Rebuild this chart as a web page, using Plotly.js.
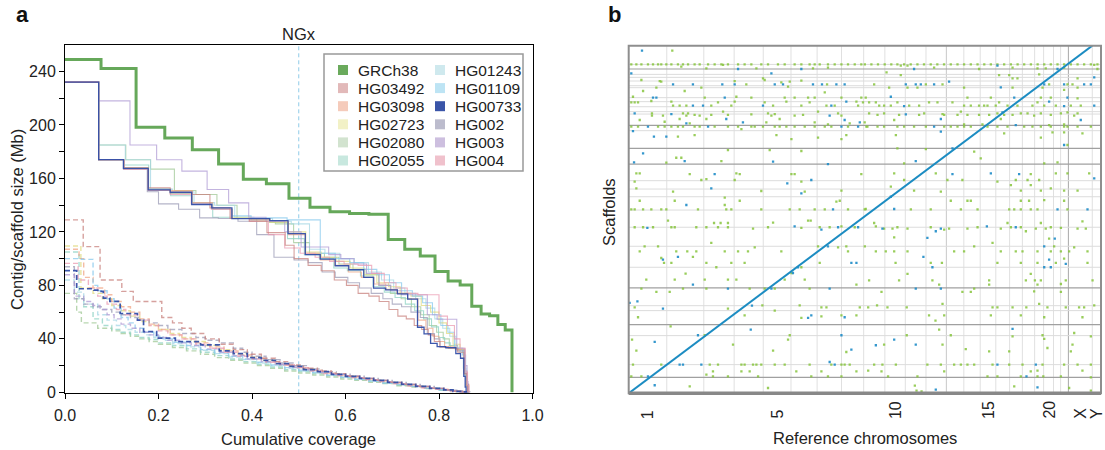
<!DOCTYPE html>
<html><head><meta charset="utf-8">
<script src="https://cdn.plot.ly/plotly-3.0.1.min.js"></script>
<style>html,body{margin:0;padding:0;background:#fff}#chart{width:1105px;height:450px}</style>
</head><body><div id="chart"></div>
<script>
const FONT = '"Liberation Sans", Arial, Helvetica, sans-serif';
const W = 1105, H = 450;

// ================= Panel a : NGx =================
const genomeSizeMb = 3230;
const grch38Sizes = [248.96,242.19,198.30,190.21,181.54,170.81,159.35,156.04,145.14,138.39,135.09,133.80,133.28,114.36,107.04,101.99,90.34,83.26,80.37,64.44,58.62,57.23,50.82,46.71];

// scaffolds: [size Mb, cumulative coverage at end of step]
const scaf_HG00733 = [[232,0.072],[174,0.125],[167.5,0.178],[151.5,0.225],[149.5,0.271],[140.5,0.314],[138,0.357],[130,0.438],[128.5,0.477],[118.7,0.514],[103,0.546],[99.7,0.578],[94.7,0.607],[91.7,0.639],[86,0.66],[78,0.686],[76.7,0.711],[73.7,0.733],[69.7,0.754],[48.7,0.768],[43.7,0.782],[36.7,0.796],[34.2,0.814],[33.5,0.836],[29,0.846],[25.5,0.853],[12,0.856],[4,0.858]];
const scaf_HG003 = [[232,0.072],[218,0.139],[185,0.196],[174,0.25],[165.5,0.304],[151.7,0.35],[141.7,0.393],[131,0.43],[128,0.47],[120,0.505],[108.7,0.564],[103,0.59],[100,0.618],[96,0.645],[89,0.672],[80,0.697],[76,0.72],[73,0.775],[58,0.796],[54.7,0.838],[33,0.855],[20,0.86],[8,0.862]];
const scaf_HG002 = [[232,0.072],[174,0.125],[167,0.176],[150,0.2],[141,0.243],[137,0.288],[130.5,0.328],[130,0.37],[128,0.41],[118,0.447],[101,0.49],[99,0.52],[97,0.55],[90,0.578],[86,0.605],[82,0.63],[78,0.655],[74,0.68],[70,0.7],[66,0.72],[64,0.74],[60,0.76],[56,0.775],[44,0.79],[40,0.802],[34,0.815],[33,0.84],[31,0.855],[14,0.86],[6,0.863]];
const scaf_HG02080 = [[232,0.072],[185,0.13],[174,0.183],[167,0.234],[151,0.28],[148,0.325],[140,0.368],[130,0.41],[128,0.45],[126,0.489],[112,0.523],[104,0.555],[101,0.586],[96,0.616],[92,0.644],[88,0.671],[80,0.696],[74,0.719],[70,0.741],[64,0.761],[58,0.779],[50,0.795],[45,0.809],[40,0.822],[35,0.84],[32,0.853],[15,0.858],[5,0.861]];
const scaf_HG02055 = [[232,0.072],[174,0.126],[170,0.179],[152,0.226],[147,0.272],[142,0.316],[131,0.357],[130,0.397],[129,0.437],[127,0.476],[115,0.512],[103,0.544],[100,0.575],[93,0.604],[91,0.632],[87,0.659],[79,0.683],[75,0.706],[71,0.728],[66,0.748],[61,0.767],[55,0.784],[49,0.799],[41,0.812],[37,0.824],[33,0.845],[30,0.855],[12,0.859],[5,0.862]];
const scaf_HG01243 = [[232,0.072],[185,0.129],[174,0.183],[152,0.23],[150,0.276],[142,0.32],[140,0.363],[131,0.404],[130,0.444],[128,0.484],[126,0.523],[107,0.556],[104,0.588],[100,0.619],[97,0.649],[90,0.677],[84,0.703],[78,0.727],[74,0.75],[70,0.772],[63,0.791],[55,0.808],[48,0.823],[42,0.836],[33,0.852],[18,0.858],[6,0.862]];
const scaf_HG01109 = [[232,0.072],[174,0.126],[167,0.178],[152,0.225],[150,0.271],[141,0.315],[137,0.357],[132,0.398],[130.5,0.475],[129,0.546],[104,0.578],[100,0.609],[97,0.639],[92,0.667],[88,0.694],[82,0.72],[76,0.743],[72,0.765],[67,0.786],[58,0.804],[50,0.819],[45,0.833],[33,0.85],[28,0.857],[10,0.861]];
const scaf_HG03492 = [[232,0.072],[174,0.126],[168,0.178],[153,0.225],[150,0.272],[148,0.31],[138,0.353],[130,0.394],[128,0.432],[119.5,0.471],[110,0.49],[100,0.52],[95,0.548],[91,0.576],[84,0.602],[80,0.627],[74,0.65],[72,0.672],[68,0.693],[62,0.712],[57,0.73],[55,0.747],[50,0.763],[47,0.777],[43,0.79],[38,0.802],[34,0.82],[33,0.84],[30,0.853],[14,0.858],[5,0.861]];
const scaf_HG03098 = [[232,0.072],[174,0.126],[167,0.178],[152,0.226],[151,0.272],[142,0.316],[137,0.358],[130,0.398],[129,0.438],[128,0.478],[118,0.514],[104,0.546],[99,0.577],[95,0.606],[90,0.634],[86,0.661],[81,0.686],[77,0.71],[74,0.733],[70,0.755],[54,0.772],[48,0.787],[42,0.8],[38,0.812],[34,0.835],[32,0.855],[16,0.86],[6,0.864]];
const scaf_HG02723 = [[232,0.072],[174,0.126],[168,0.178],[151,0.225],[149,0.271],[141,0.315],[137,0.357],[131,0.398],[130,0.438],[127,0.478],[120,0.515],[105,0.548],[101,0.58],[98,0.61],[93,0.64],[88,0.667],[82,0.692],[79,0.717],[74,0.74],[72,0.762],[65,0.782],[60,0.8],[52,0.816],[44,0.83],[36,0.845],[32,0.855],[14,0.86],[5,0.863]];
const scaf_HG004 = [[232,0.072],[174,0.126],[167,0.178],[151,0.225],[148,0.27],[141,0.313],[137,0.355],[130,0.395],[128,0.435],[118,0.47],[108,0.503],[104,0.535],[101,0.566],[98,0.597],[96,0.627],[95,0.656],[89,0.683],[82,0.708],[78,0.732],[74,0.755],[73,0.8],[57,0.818],[50,0.833],[40,0.845],[33,0.856],[15,0.861],[5,0.864]];

// contigs: [size Mb, cumulative coverage at end of step]
const ctg_HG00733 = [[91,0.025],[77.5,0.062],[76.5,0.075],[75.5,0.082],[70.5,0.096],[68,0.118],[59,0.155],[54,0.168],[45.5,0.196],[40.5,0.236],[38,0.29],[35.5,0.33],[31,0.36],[29,0.39],[26,0.42],[24,0.45],[21.5,0.48],[19.5,0.51],[17,0.54],[15.5,0.57],[13.5,0.6],[12,0.63],[10.5,0.66],[9,0.69],[7.5,0.72],[6,0.75],[4.5,0.78],[3,0.81],[1.8,0.83],[0.8,0.85],[0.3,0.862]];
const ctg_HG03492 = [[129,0.039],[109,0.075],[84,0.1215],[75.5,0.146],[68,0.207],[56,0.23],[52,0.25],[48,0.27],[44,0.3],[40,0.33],[36,0.36],[32,0.39],[28.5,0.42],[25.5,0.45],[23,0.48],[20.5,0.51],[18,0.54],[16,0.57],[14,0.6],[12,0.63],[10.5,0.66],[9,0.69],[7.5,0.72],[6,0.75],[4.5,0.78],[3,0.81],[1.8,0.83],[0.8,0.85],[0.3,0.863]];
const ctg_HG004 = [[96.5,0.028],[84,0.05],[78,0.07],[72,0.09],[66,0.11],[62,0.13],[58,0.155],[54,0.18],[50,0.2],[46,0.22],[43,0.25],[40,0.28],[36,0.31],[33,0.34],[30,0.37],[27,0.4],[25,0.43],[22.5,0.46],[20.5,0.49],[18.5,0.52],[16,0.55],[14,0.58],[12.5,0.61],[11,0.64],[9.5,0.67],[8,0.7],[6.5,0.73],[5,0.76],[3.5,0.79],[2.2,0.82],[1,0.845],[0.3,0.862]];
const ctg_HG03098 = [[107,0.03],[100,0.04],[86,0.06],[78,0.085],[73,0.1],[68,0.12],[64,0.14],[60,0.16],[55,0.18],[51,0.2],[47,0.225],[43,0.25],[40,0.28],[37,0.31],[34,0.34],[31,0.37],[28,0.4],[25.5,0.43],[23,0.46],[20.5,0.49],[18.5,0.52],[16.5,0.55],[14.5,0.58],[12.5,0.61],[11,0.64],[9.5,0.67],[8,0.7],[6.5,0.73],[5,0.76],[3.5,0.79],[2.2,0.82],[1,0.845],[0.3,0.864]];
const ctg_HG02723 = [[109.5,0.034],[78,0.06],[74,0.08],[70,0.1],[65,0.12],[61,0.14],[57,0.16],[53,0.18],[50,0.2],[47,0.22],[44,0.245],[41,0.27],[38,0.3],[35,0.33],[32,0.36],[29,0.39],[26.5,0.42],[24,0.45],[21.5,0.48],[19.5,0.51],[17.5,0.54],[15.5,0.57],[13.5,0.6],[12,0.63],[10.5,0.66],[9,0.69],[7.5,0.72],[6,0.75],[4.5,0.78],[3,0.81],[1.8,0.83],[0.8,0.85],[0.3,0.862]];
const ctg_HG02080 = [[74,0.025],[60,0.035],[52,0.07],[48,0.1],[46,0.12],[44,0.14],[42,0.16],[40,0.18],[38,0.2],[36,0.23],[33.5,0.26],[31,0.29],[28.5,0.32],[26,0.35],[24,0.38],[22,0.41],[20,0.44],[18,0.47],[16,0.5],[14.5,0.53],[13,0.56],[11.5,0.59],[10,0.62],[9,0.65],[7.5,0.68],[6.5,0.71],[5,0.74],[4,0.77],[2.8,0.8],[1.6,0.825],[0.7,0.848],[0.3,0.86]];
const ctg_HG02055 = [[105,0.03],[70,0.04],[64,0.06],[55,0.08],[50,0.1],[47,0.12],[45,0.14],[43,0.16],[41,0.18],[39.5,0.2],[37,0.23],[35,0.26],[32.5,0.29],[30,0.32],[27.5,0.35],[25,0.38],[23,0.41],[21,0.44],[19,0.47],[17,0.5],[15.5,0.53],[14,0.56],[12.5,0.59],[11,0.62],[9.5,0.65],[8.5,0.68],[7,0.71],[5.5,0.74],[4.5,0.77],[3,0.8],[1.8,0.825],[0.8,0.848],[0.3,0.862]];
const ctg_HG01243 = [[84,0.02],[75,0.04],[66,0.07],[58,0.09],[54,0.11],[50,0.13],[47,0.15],[45,0.17],[43,0.19],[41,0.21],[39,0.23],[36.5,0.26],[34,0.29],[31.5,0.32],[29,0.35],[26.5,0.38],[24.5,0.41],[22,0.44],[20,0.47],[18,0.5],[16,0.53],[14.5,0.56],[13,0.59],[11.5,0.62],[10,0.65],[8.5,0.68],[7,0.71],[6,0.74],[4.5,0.77],[3.2,0.8],[2,0.825],[0.9,0.848],[0.3,0.862]];
const ctg_HG01109 = [[100,0.035],[99.5,0.06],[80,0.07],[76,0.09],[70,0.105],[63,0.12],[56,0.135],[52,0.15],[48,0.17],[45,0.19],[42,0.21],[40,0.23],[37.5,0.26],[35,0.29],[32,0.32],[29.5,0.35],[27,0.38],[25,0.41],[22.5,0.44],[20.5,0.47],[18.5,0.5],[16.5,0.53],[15,0.56],[13,0.59],[11.5,0.62],[10,0.65],[8.5,0.68],[7,0.71],[6,0.74],[4.5,0.77],[3.2,0.8],[2,0.825],[0.9,0.848],[0.3,0.862]];
const ctg_HG002 = [[94,0.02],[70,0.04],[66,0.06],[64,0.08],[62,0.1],[60,0.12],[58,0.14],[56,0.16],[54,0.18],[52,0.2],[50,0.22],[47,0.25],[44,0.28],[41,0.3],[39,0.33],[37,0.36],[33,0.38],[30,0.4],[27,0.43],[24.5,0.46],[22,0.49],[20,0.52],[17.5,0.55],[15.5,0.58],[13.5,0.61],[12,0.64],[10.5,0.67],[9,0.7],[7.5,0.73],[6,0.76],[4.5,0.79],[3,0.815],[1.6,0.838],[0.6,0.855],[0.3,0.866]];
const ctg_HG003 = [[88,0.02],[72,0.04],[68,0.06],[65,0.075],[62,0.09],[58,0.105],[55,0.12],[51,0.14],[48,0.16],[45,0.18],[43,0.2],[41,0.22],[39,0.245],[37,0.27],[35,0.3],[32.5,0.33],[30,0.36],[27.5,0.39],[25,0.42],[23,0.45],[21,0.48],[19,0.51],[17,0.54],[15,0.57],[13.5,0.6],[12,0.63],[10.5,0.66],[9,0.69],[7.5,0.72],[6,0.75],[4.5,0.78],[3,0.81],[1.8,0.83],[0.8,0.85],[0.3,0.863]];

const legendCol1 = ['GRCh38','HG03492','HG03098','HG02723','HG02080','HG02055'];
const legendCol2 = ['HG01243','HG01109','HG00733','HG002','HG003','HG004'];

// ================= Panel b : dot plot =================
const chrNames = ['1','2','3','4','5','6','7','8','9','10','11','12','13','14','15','16','17','18','19','20','21','22','X','Y'];
const chrLengthsMb = [248.96,242.19,198.30,190.21,181.54,170.81,159.35,145.14,138.39,133.80,135.09,133.28,114.36,107.04,101.99,90.34,83.26,80.37,58.62,64.44,46.71,50.82,156.04,57.23];
const chrTickLabels = ['1','5','10','15','20','X','Y'];
const scaffoldBreaksLight = [2868,2781,2755,2723,2682,2665,2578,2543,2499,2456,2435,2290,1854,1781,1714,1598,1448,1282,1099,764,721,503,250];
const scaffoldBreaksDark = [2828,2337,2136,1999,919,599,139];

// off-diagonal alignments, rows of [scaffold Mb, [reference Mb ...]]
const greenRows = [
[2988,[285]],
[2868,[17,50,83,126,159,192,213,246,279,322,355,388,431,464,519,562,606,649,715,758,802,867,911,976,1020,1085,1129,1183,1216,1249,1303,1347,1391,1434,1478,1521,1544,1587,1630,1674,1717,1757,1801,1844,1888,1931,1975,2018,2062,2106,2150,2193,2237,2281,2325,2368,2411,2455,2499,2543,2586,2630,2674,2717,2760,2804,2847,2891,2935,2978,3022,3065]],
[2863,[617,3044]],[2857,[1779,1823]],[2848,[344]],[2839,[1303,1997,2510,2847]],[2834,[508,835,1205,2673,2727]],[2828,[2291,3065]],
[2799,[1686]],[2775,[1779,2422,2488]],[2781,[2684]],[2746,[878,2510,2542,2935]],[2732,[83,889]],[2726,[1129]],[2723,[203,693]],[2717,[213,1053]],[2711,[998]],
[2694,[769,1297,1605,1943,2052,2749,2869,2902]],[2674,[1042]],[2665,[181,475,1703,1823,1888,2193,2510,2706,2935]],[2645,[2847]],[2636,[94,366]],[2624,[1282]],
[2586,[28,704]],[2578,[497,802,1020,1085,1173,1216,1391,1521,1550,2215,2368,2695,2760]],[2572,[2935]],[2549,[148]],[2543,[279,693,1031,1489]],
[2537,[17,39,61,584,889,1183,1532,1572,1616,1757,1964,2019,2117,2422,2673]],
[2508,[290,333,377,540,671,944,1129,1293,1347,1500,1638,1670,1714,1834,1899,2193,2237,2291,2324,2346,2400,2477,2542,2640,2717,2793,2891,2956]],
[2456,[617,1238,2172]],[2450,[2869]],[2441,[152,355,388,911,1369,1572,1670,1932,2411,2564,2608,2695,2826,2935]],[2435,[955,2052]],[2432,[802]],
[2427,[431,540,649,1140,1627,1768,1899,2063,2150,2215,2291,2357,2455,2510,2760]],[2421,[152,224,377,464,933,1085,1391,2651,2913]],
[2392,[333,508,987,2433]],[2383,[72,1736]],[2368,[235]],[2363,[900,1216,1543]],[2354,[399,1445]],[2345,[1303,2193,2313,2847]],[2339,[2749]],
[2325,[17,61,192,235,279,322,355,431,464,562,649,715,802,824,878,955,987,1031,1085,1151,1216,1282,1325,1434,1554,1561,1627,1670,1757,1801,1866,1943,2063,2106,2150,2193,2237,2346,2411,2477,2586,2640,2695,2760,2847,2869,2935,3022]],
[2304,[737]],[2275,[2771,2847]],[2267,[2455,2967]],[2252,[431,966,1423,1747]],[2238,[322]],[2229,[1238,2695]],[2217,[1064,1391]],
[2165,[2869]],[2136,[1757]],[2130,[1943]],[2121,[649,922]],[2113,[1129]],[2107,[2259]],[2054,[344,311]],[2049,[2302]],[2025,[606]],[2014,[2804]],[2011,[246]],[2005,[1801,2717]],
[1918,[50,72,704,1736,2008,2793,2869,3011]],[1912,[399,726,1064,1085,1521,2629]],[1868,[508]],[1860,[475,693,1801,2084,2182,2531,2608,2684]],[1845,[1129,39,2411]],
[1816,[2499,2629]],[1802,[1714]],[1787,[50,2760]],[1767,[1391,1866,2564,2695,2847,2935]],[1764,[867]],[1758,[290,1151,2041]],[1706,[628]],[1685,[2717]],
[1679,[72,301,726,1380,2106,2215,2237,2564,2618,2847]],[1671,[1358]],[1642,[628]],[1607,[1550]],
[1604,[17,39,94,148,213,246,453,638,671,867,1053,1118,1216,1282,1434,1543,1845,1975,2172,2281,2488,2521,2564,2629,2673,2869]],
[1506,[257,1173,1190]],[1500,[2967]],[1488,[944]],[1485,[558,601,649,1605,2477,2695]],[1456,[1391,1616]],
[1448,[39,94,159,279,301,442,508,584,649,911,1249,1314,1478,1757,1975,2281,2499,2564,2760]],[1442,[1129,2826]],
[1436,[813,1670,1725,1823,2095,2215,2433,2662,2727,2935,2989]],[1427,[2063]],[1413,[2597]],[1360,[1736]],[1349,[2749]],[1311,[540,2379]],
[1282,[104,192,1238,1423,1544,2259,2782]],[1273,[824,1369,2913]],
[1238,[72,311,383,442,628,715,780,998,1434,1616,1681,1736,1823,2128,2193,2433,2531,2575,2673,2760,2826,2880,3000]],
[1189,[420]],[1180,[213]],[1174,[2847]],[1137,[231,279,508,671,758,1249,1745,1975,2048,2411,2564,2673,2793,3000]],[1099,[573,1129]],
[1049,[1064]],[1044,[372]],[1041,[1823,2629]],[991,[115,301,497,649,704,1020,1151]],[985,[1572,1768,1986,2357,2597,2656,2695,2858,3033]],
[953,[2826]],[948,[1489,2030,2357,2673]],[913,[83,355,508,791,889,955,1183,2259]],[889,[2651]],[884,[181,268,1653,2182,2237,2826]],
[779,[2052,2684]],[767,[874,1118,1624,3044]],[750,[39,1260,1293,1511,1566,1692,1818,2379,2411,2510,2600,2738,2858,2945,2978]],[738,[649]],[721,[955]],
[680,[758,1391,1489,1964,2063,2368,2564]],[671,[1260]],[663,[61,2717,2967]],[657,[1129]],[634,[2006]],[584,[274]],[555,[2030]],[526,[2913]],
[506,[497,1053,1818,2106,2706]],[497,[2510,3022]],[474,[2717]],[468,[22,1042]],[424,[682,1670,2052,2902]],[395,[2738]],[386,[2204]],[372,[944,50]],
[366,[2357,2488,2891]],[360,[1423]],
[250,[28,213,530,584,737,758,813,835,867,955,1020,1183,1325,1391,1412,1445,1605,1659,1747,1953,2041,2128,2172,2215,2259,2379,2488,2575,2706,2847,2935,3022]],
[198,[1566,2673,2967]],[192,[551,737,791,1096,1260,1489,1653,2063,2629]],[163,[508]],
[148,[17,83,551,649,846,1194,1303,1391,1696,1888,2346,2411,2564,2673,2711,2826]],[139,[3022]],
[67,[1871]],[61,[399,2521]],[46,[911,2880]],[23,[1882,3022]],[17,[1915]]
];
const blueRows = [
[2988,[87]],[2857,[2411]],[2828,[715,1129,1866,2804]],[2790,[17,933]],[2755,[3044]],[2717,[2095]],
[2694,[290,420,612,693,955,1009,1205,1264,1358,1412,1812,1877,1910,1997,2717,2847,2978,3022]],[2668,[2433]],
[2586,[1714]],[2578,[159,181,628,2521,2869]],[2543,[1423,2749]],[2508,[420,486,878,1325,3044]],[2505,[1801,2847]],
[2450,[2444]],[2441,[39]],[2435,[279]],[2432,[1812]],[2421,[1314]],[2392,[638,2041]],[2383,[1412,2956]],[2363,[747,1511]],[2354,[377]],[2339,[2531]],
[2325,[126,519,1391,1500,1997]],[2287,[28]],[2281,[2041]],[2238,[165,246]],[2165,[2847]],[2136,[2117]],[2092,[94]],[2025,[366,1877]],[2020,[944]],[2014,[35]],[1999,[1303]],
[1918,[2368]],[1912,[562,2117,2553]],[1874,[3044]],[1860,[1194]],[1831,[1037]],[1787,[540]],[1743,[1129]],[1714,[1714]],[1642,[377]],[1607,[1736]],[1604,[1336,2804,3000]],
[1456,[1085,2342]],[1448,[2531,1369,1500]],[1442,[122]],[1436,[1659,2041]],[1427,[1260]],[1413,[2008]],[1355,[1953]],[1349,[2786]],[1282,[1303,2717]],
[1189,[322,1927]],[1166,[224,2749]],[1137,[1456,1489]],[1128,[2858]],[1099,[1107,1986,2717,2760]],[1049,[1074]],[948,[420]],[913,[649,933,1314,1877,2041]],
[802,[57]],[788,[6]],[764,[806]],[738,[224]],[680,[1194]],[663,[1412]],[657,[1173]],[561,[2510]],[555,[798]],[506,[453,1391]],[468,[1736]],[448,[170]],
[424,[1877]],[419,[1616]],[381,[1456]],[273,[1314]],[250,[333,355,475,1347,2411,2662]],[148,[126,2601]],[70,[170]],[52,[2673]],[32,[2008]]
];

// ================= styling =================
const lineColors = {
  HG03492:'rgba(200,130,125,0.75)', HG03098:'rgba(240,160,125,0.7)', HG02723:'rgba(222,215,120,0.7)',
  HG02080:'rgba(160,200,150,0.75)', HG02055:'rgba(140,210,195,0.75)', HG01243:'rgba(165,215,228,0.75)',
  HG01109:'rgba(135,200,236,0.75)', HG00733:'rgba(50,78,168,0.95)', HG002:'rgba(155,155,182,0.75)',
  HG003:'rgba(175,155,212,0.75)', HG004:'rgba(235,155,178,0.75)'
};
const swatchColors = {
  GRCh38:'#6aaa5c', HG03492:'#e2b9b9', HG03098:'#f5cbbb', HG02723:'#f2f1c6', HG02080:'#d2e3cf', HG02055:'#c8e8df',
  HG01243:'#cfe9ee', HG01109:'#bde4f4', HG00733:'#3a55a8', HG002:'#bcbccd', HG003:'#cdbfdf', HG004:'#f0c1cc'
};
const scafSeries = {HG03492:scaf_HG03492,HG03098:scaf_HG03098,HG02723:scaf_HG02723,HG02080:scaf_HG02080,HG02055:scaf_HG02055,HG01243:scaf_HG01243,HG01109:scaf_HG01109,HG002:scaf_HG002,HG003:scaf_HG003,HG004:scaf_HG004,HG00733:scaf_HG00733};
const ctgSeries = {HG03492:ctg_HG03492,HG03098:ctg_HG03098,HG02723:ctg_HG02723,HG02080:ctg_HG02080,HG02055:ctg_HG02055,HG01243:ctg_HG01243,HG01109:ctg_HG01109,HG002:ctg_HG002,HG003:ctg_HG003,HG004:ctg_HG004,HG00733:ctg_HG00733};
const drawOrder = ['HG02080','HG02055','HG01243','HG02723','HG03098','HG01109','HG002','HG003','HG004','HG03492','HG00733'];

function stepXY(pairs){
  const x=[0], y=[];
  pairs.forEach(([s,e])=>{ y.push(s); x.push(e); });
  y.push(0);
  return {x,y};
}
const traces = [];
drawOrder.forEach(name=>{
  const c = stepXY(ctgSeries[name]);
  traces.push({x:c.x,y:c.y,mode:'lines',line:{shape:'hv',color:lineColors[name],width:name==='HG00733'?1.7:1.4,dash:'5px,3px'},showlegend:false,hoverinfo:'skip',xaxis:'x',yaxis:'y'});
});
drawOrder.forEach(name=>{
  const s = stepXY(scafSeries[name]);
  traces.push({x:s.x,y:s.y,mode:'lines',line:{shape:'hv',color:lineColors[name],width:name==='HG00733'?1.3:1.1},showlegend:false,hoverinfo:'skip',xaxis:'x',yaxis:'y'});
});
// GRCh38 chromosomes as NGx
(function(){
  const pairs=[]; let acc=0;
  grch38Sizes.forEach(s=>{ acc+=s; pairs.push([s, acc/genomeSizeMb]); });
  const g = stepXY(pairs);
  traces.push({x:g.x,y:g.y,mode:'lines',line:{shape:'hv',color:'#66a85a',width:3},showlegend:false,hoverinfo:'skip',xaxis:'x',yaxis:'y'});
})();

// panel b
const chrStarts=[]; let accRef=0;
chrLengthsMb.forEach(l=>{ chrStarts.push(accRef); accRef+=l; });
const refTotal = accRef;
const scafTotal = chrStarts[chrNames.indexOf('Y')];
const diagX = chrStarts.slice(0, chrNames.indexOf('Y')).concat([scafTotal]);
function flattenRows(rows){ const x=[],y=[]; rows.forEach(([yy,xs])=>xs.forEach(xx=>{x.push(xx);y.push(yy);})); return {x,y}; }
const gd = flattenRows(greenRows), bd = flattenRows(blueRows);
traces.push({x:gd.x,y:gd.y,mode:'markers',marker:{symbol:'square',size:2.3,color:'rgb(135,196,62)',opacity:0.85,line:{width:0}},showlegend:false,hoverinfo:'skip',xaxis:'x2',yaxis:'y2'});
traces.push({x:bd.x,y:bd.y,mode:'markers',marker:{symbol:'square',size:2.3,color:'rgb(30,140,200)',opacity:0.9,line:{width:0}},showlegend:false,hoverinfo:'skip',xaxis:'x2',yaxis:'y2'});
traces.push({x:diagX,y:diagX,mode:'lines',line:{color:'rgb(28,140,194)',width:2},showlegend:false,hoverinfo:'skip',xaxis:'x2',yaxis:'y2'});

// ================= layout =================
const px = v => v / W, py = v => 1 - v / H;
const shapes = [];
const annotations = [];
shapes.push({type:'line',xref:'x',yref:'y domain',x0:0.5,x1:0.5,y0:0,y1:1,line:{color:'#8fcbe8',width:1,dash:'4px,3px'},layer:'below'});
// legend
shapes.push({type:'rect',xref:'paper',yref:'paper',x0:px(324),x1:px(523),y0:py(171),y1:py(54),line:{color:'#999',width:1.5},fillcolor:'rgba(255,255,255,0.9)',layer:'above'});
[legendCol1,legendCol2].forEach((col,ci)=>{
  const sx = ci===0 ? 343 : 440, tx = ci===0 ? 356 : 453;
  col.forEach((name,ri)=>{
    const cy = 70 + ri*18.1;
    shapes.push({type:'rect',xref:'paper',yref:'paper',x0:px(sx-5),x1:px(sx+5),y0:py(cy+5),y1:py(cy-5),line:{width:0},fillcolor:swatchColors[name],layer:'above'});
    annotations.push({text:name,xref:'paper',yref:'paper',x:px(tx),y:py(cy),xanchor:'left',yanchor:'middle',showarrow:false,font:{family:FONT,size:15.5,color:'#222'}});
  });
});
// panel b grid lines
chrStarts.slice(1).forEach((b,i)=>{
  const after = chrNames[i];
  const strong = (after==='22'), mid = (after==='12');
  shapes.push({type:'line',xref:'x2',yref:'y2 domain',x0:b,x1:b,y0:0,y1:1,line:{color:strong?'#a8a8a8':(mid?'#c8c8c8':'#e0e0e0'),width:1},layer:'below'});
});
scaffoldBreaksLight.forEach(v=>shapes.push({type:'line',xref:'x2 domain',yref:'y2',x0:0,x1:1,y0:v,y1:v,line:{color:'#dcdcdc',width:1},layer:'below'}));
scaffoldBreaksDark.forEach(v=>shapes.push({type:'line',xref:'x2 domain',yref:'y2',x0:0,x1:1,y0:v,y1:v,line:{color:'#a0a0a0',width:1.2},layer:'below'}));
// panel b frame
shapes.push({type:'rect',xref:'x2 domain',yref:'y2 domain',x0:0,x1:1,y0:0,y1:1,line:{color:'#8e8e8e',width:2},layer:'above'});
shapes.push({type:'line',xref:'x2 domain',yref:'y2 domain',x0:0,x1:1,y0:0,y1:0,line:{color:'#888',width:3.5},layer:'above'});

// chromosome labels
chrTickLabels.forEach(lab=>{
  const i = chrNames.indexOf(lab);
  annotations.push({text:lab,xref:'x2',yref:'paper',x:chrStarts[i]+chrLengthsMb[i]/2,y:py(421),xanchor:'center',yanchor:'bottom',textangle:-90,showarrow:false,font:{family:FONT,size:16,color:'#222'}});
});
// titles and panel letters
annotations.push({text:'<b>a</b>',xref:'paper',yref:'paper',x:px(14),y:py(15),xanchor:'left',yanchor:'middle',showarrow:false,font:{family:FONT,size:22,color:'#111'}});
annotations.push({text:'<b>b</b>',xref:'paper',yref:'paper',x:px(606),y:py(15),xanchor:'left',yanchor:'middle',showarrow:false,font:{family:FONT,size:22,color:'#111'}});
annotations.push({text:'NGx',xref:'paper',yref:'paper',x:px(298.7),y:py(34),xanchor:'center',yanchor:'middle',showarrow:false,font:{family:FONT,size:16.5,color:'#222'}});
annotations.push({text:'Cumulative coverage',xref:'paper',yref:'paper',x:px(298.7),y:py(439),xanchor:'center',yanchor:'middle',showarrow:false,font:{family:FONT,size:16.5,color:'#222'}});
annotations.push({text:'Contig/scaffold size (Mb)',xref:'paper',yref:'paper',x:px(17),y:py(220),xanchor:'center',yanchor:'middle',textangle:-90,showarrow:false,font:{family:FONT,size:16.5,color:'#222'}});
annotations.push({text:'Reference chromosomes',xref:'paper',yref:'paper',x:px(865),y:py(438),xanchor:'center',yanchor:'middle',showarrow:false,font:{family:FONT,size:16.5,color:'#222'}});
annotations.push({text:'Scaffolds',xref:'paper',yref:'paper',x:px(609),y:py(212),xanchor:'center',yanchor:'middle',textangle:-90,showarrow:false,font:{family:FONT,size:16.5,color:'#222'}});

const yDom = [1-393.3/H, 1-45/H];
const layout = {
  width:W, height:H, margin:{l:0,r:0,t:0,b:0}, paper_bgcolor:'#fff', plot_bgcolor:'rgba(0,0,0,0)',
  showlegend:false, font:{family:FONT,color:'#222'},
  xaxis:{domain:[65/W,532.5/W],range:[0,1],tickmode:'linear',tick0:0,dtick:0.2,tickformat:'.1f',ticks:'outside',ticklen:5,tickwidth:1,tickcolor:'#000',
    showline:true,linecolor:'#000',linewidth:1,mirror:true,showgrid:false,zeroline:false,tickfont:{family:FONT,size:16,color:'#222'},ticklabelstandoff:2,anchor:'y'},
  yaxis:{domain:yDom,range:[-0.7,259.8],tickmode:'linear',tick0:0,dtick:40,ticks:'outside',ticklen:5,tickwidth:1,tickcolor:'#000',
    minor:{dtick:20,tick0:0,ticks:'outside',ticklen:5,tickwidth:1,tickcolor:'#000',showgrid:false},
    showline:true,linecolor:'#000',linewidth:1,mirror:true,showgrid:false,zeroline:false,tickfont:{family:FONT,size:16,color:'#222'},anchor:'x'},
  xaxis2:{domain:[628.7/W,1101/W],range:[0,refTotal],showticklabels:false,ticks:'',showgrid:false,zeroline:false,showline:false,anchor:'y2'},
  yaxis2:{domain:[1-393.3/H,1-45.7/H],range:[0,scafTotal],showticklabels:false,ticks:'',showgrid:false,zeroline:false,showline:false,anchor:'x2'},
  shapes, annotations
};
Plotly.newPlot('chart', traces, layout, {displayModeBar:false, staticPlot:true});
</script></body></html>
